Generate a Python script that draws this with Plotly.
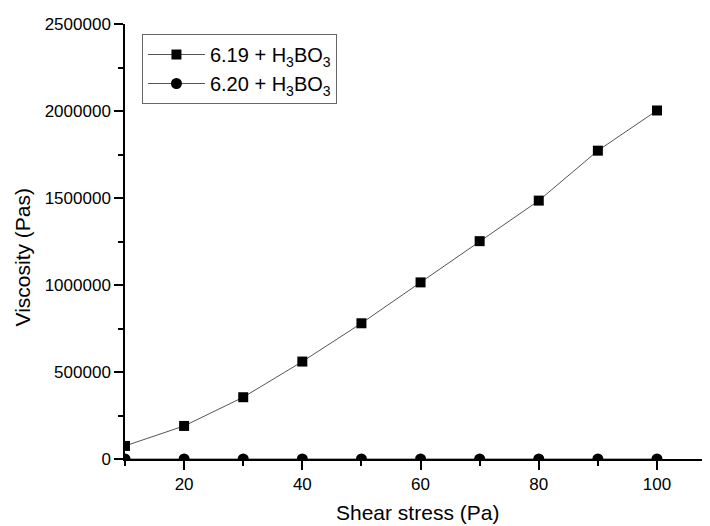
import plotly.graph_objects as go

shear_stress = [10, 20, 30, 40, 50, 60, 70, 80, 90, 100]
viscosity_619 = [75000, 190000, 355000, 560000, 780000, 1015000, 1252000, 1485000, 1772000, 2003000]
viscosity_620 = [0, 0, 0, 0, 0, 0, 0, 0, 0, 0]

x_ticks = [20, 40, 60, 80, 100]
y_ticks = [0, 500000, 1000000, 1500000, 2000000, 2500000]

FONT = "Liberation Sans, Arial, sans-serif"

# the page body keeps its default 8px margin, so the figure is 8px smaller than the window
figure = go.Figure()

figure.add_trace(go.Scatter(
    x=shear_stress, y=viscosity_619, name="6.19 + H<sub>3</sub>BO<sub>3</sub>",
    mode="lines+markers",
    line=dict(color="#555555", width=1),
    marker=dict(symbol="square", size=10, color="black"),
))
figure.add_trace(go.Scatter(
    x=shear_stress, y=viscosity_620, name="6.20 + H<sub>3</sub>BO<sub>3</sub>",
    mode="lines+markers",
    line=dict(color="#555555", width=1),
    marker=dict(symbol="circle", size=11, color="black"),
))

axis_style = dict(
    showline=True, linecolor="black", linewidth=1.5, mirror=False,
    showgrid=False, zeroline=False, automargin=False,
    ticks="outside", ticklen=9, tickwidth=1.5, tickcolor="black",
    tickfont=dict(family=FONT, size=17, color="black"),
)

figure.update_xaxes(
    range=[10, 108.8], tickvals=x_ticks,
    minor=dict(dtick=10, tick0=10, ticks="outside", ticklen=5, tickwidth=1.5, tickcolor="black"),
    **axis_style,
)
figure.update_yaxes(
    range=[0, 2500000], tickvals=y_ticks, ticktext=[str(v) for v in y_ticks],
    minor=dict(dtick=250000, tick0=0, ticks="outside", ticklen=5, tickwidth=1.5, tickcolor="black"),
    **axis_style,
)

title_font = dict(family=FONT, size=21, color="black")
figure.add_annotation(
    text="Shear stress (Pa)", xref="paper", yref="paper", x=0.5, y=0,
    xanchor="center", yanchor="middle", yshift=-53, showarrow=False, font=title_font,
)
figure.add_annotation(
    text="Viscosity (Pas)", xref="paper", yref="paper", x=0, y=0.5,
    xanchor="center", yanchor="middle", xshift=-103, yshift=-16, textangle=-90,
    showarrow=False, font=title_font,
)

figure.update_layout(
    width=702, height=518,
    margin=dict(l=117, r=1, t=16, b=67),
    paper_bgcolor="white", plot_bgcolor="white",
    showlegend=True,
    legend=dict(
        x=0.029, y=0.977, xanchor="left", yanchor="top",
        bordercolor="#666666", borderwidth=1, bgcolor="white",
        font=dict(family=FONT, size=20, color="black"),
        tracegroupgap=0, itemwidth=57,
    ),
)

figure.write_html("out.html")
